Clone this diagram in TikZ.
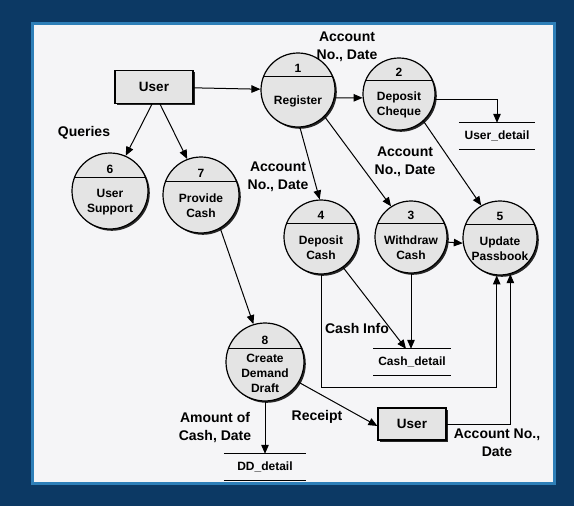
\documentclass[tikz,border=0pt]{standalone}
\usepackage{fontspec}
\setmainfont{Liberation Sans}
\usetikzlibrary{positioning,arrows.meta,shadows,calc}

\definecolor{bgblue}{HTML}{0C3964}
\definecolor{glow}{HTML}{2E7FB8}
\definecolor{paper}{HTML}{F5F5F7}
\definecolor{bubble}{HTML}{E4E4E4}

\begin{document}
\begin{tikzpicture}[
  x=1pt, y=-1pt,
  every node/.style={font=\fontsize{12}{15}\selectfont\bfseries, align=center, inner sep=0pt},
  lbl/.style={font=\fontsize{14}{18}\selectfont\bfseries},
  flow/.style={-{Triangle[length=9pt,width=7.5pt]}, line width=1pt},
  proc/.style={circle, draw=black, line width=1.2pt, fill=bubble,
    drop shadow={shadow xshift=1.8pt, shadow yshift=-1.8pt, fill=black!85, opacity=1},
    path picture={\draw[line width=1pt] ([yshift=14pt]path picture bounding box.west) -- ([yshift=14pt]path picture bounding box.east);}},
  entity/.style={rectangle, draw=black, line width=1.2pt, fill=bubble, minimum width=78pt, minimum height=33pt,
    font=\fontsize{13.5}{15}\selectfont\bfseries,
    drop shadow={shadow xshift=1.8pt, shadow yshift=-1.8pt, fill=black!85, opacity=1}},
  store/.style={minimum width=76pt, minimum height=26pt}
]

  % background and paper
  \fill[bgblue] (0,0) rectangle (574,506);
  \useasboundingbox (0,0) rectangle (574,506);
  \draw[glow, line width=3pt, fill=paper] (32,23) rectangle (554,483);

  % external entities
  \node (user1)[entity] at (154,87) {User};
  \node (user2)[entity, minimum width=68pt, minimum height=32pt] at (412,424) {User};

  % processes
  \foreach \id/\x/\y/\d/\num/\txt in {
    p1/298/90/74/1/Register,
    p2/399/94/72/2/{Deposit\\Cheque},
    p6/110/191/76/6/{User\\Support},
    p7/201/195/76/7/{Provide\\Cash},
    p4/321/237/74/4/{Deposit\\Cash},
    p3/411/237/72/3/{Withdraw\\Cash},
    p5/500/238/74/5/{Update\\Passbook},
    p8/265/362/78/8/{Create\\Demand\\Draft}}
  {
    \node (\id)[proc, minimum size=\d pt, label={[yshift=22pt]center:\num}] at (\x,\y) {};
    \node (\id-txt) at ([yshift=-11pt]\id.center) {\txt};
  }

  % data stores
  \node (ud)[store] at (497,136) {User\_detail};
  \node (cd)[store, minimum width=77pt] at (412,362) {Cash\_detail};
  \node (dd)[store, minimum width=82pt] at (265,467) {DD\_detail};
  \foreach \s in {ud,cd,dd}
    \draw[line width=1pt] (\s.north west) -- (\s.north east) (\s.south west) -- (\s.south east);

  % flows
  \draw[flow] (user1) -- (p1);
  \draw[flow] (p1.-12) -- (p2.186);
  \draw[flow] (p2.-8) -| (ud.north);
  \draw[flow] ([xshift=-2pt]user1.south) -- (p6.66);
  \draw[flow] ([xshift=6pt]user1.south) -- (p7.111);
  \draw[flow] (p7.-60) -- (p8.107);
  \draw[flow] (p1.-87) -- (p4.92);
  \draw[flow] (p1.-45) -- (p3.123);
  \draw[flow] (p2.-48) -- (p5.120);
  \draw[flow] (p3.-8) -- (p5.188);
  \draw[flow] (p4.-54) -- ([xshift=-6pt]cd.north);
  \draw[flow] (p3.south) -- (p3.south |- cd.north);
  \draw[flow] (p4.south) -- ++(0,113) -| (p5.-95);
  \draw[flow] (user2.east) -| (p5.-74);
  \draw[flow] (p8.south) -- (dd.north);
  \draw[flow] (p8.-31) -- ([yshift=-2pt]user2.west);

  % flow labels
  \node (l-acc1)[lbl] at (347,47) {Account\\No., Date};
  \node (l-query)[lbl] at (84,133) {Queries};
  \node (l-acc2)[lbl] at (278,177) {Account\\No., Date};
  \node (l-acc3)[lbl] at (405,162) {Account\\No., Date};
  \node (l-info)[lbl] at (357,328) {Cash Info};
  \node (l-amount)[lbl] at (215,428) {Amount of\\Cash, Date};
  \node (l-receipt)[lbl] at (317,417) {Receipt};
  \node (l-acc4)[lbl] at (497,443) {Account No.,\\Date};
\end{tikzpicture}
\end{document}
